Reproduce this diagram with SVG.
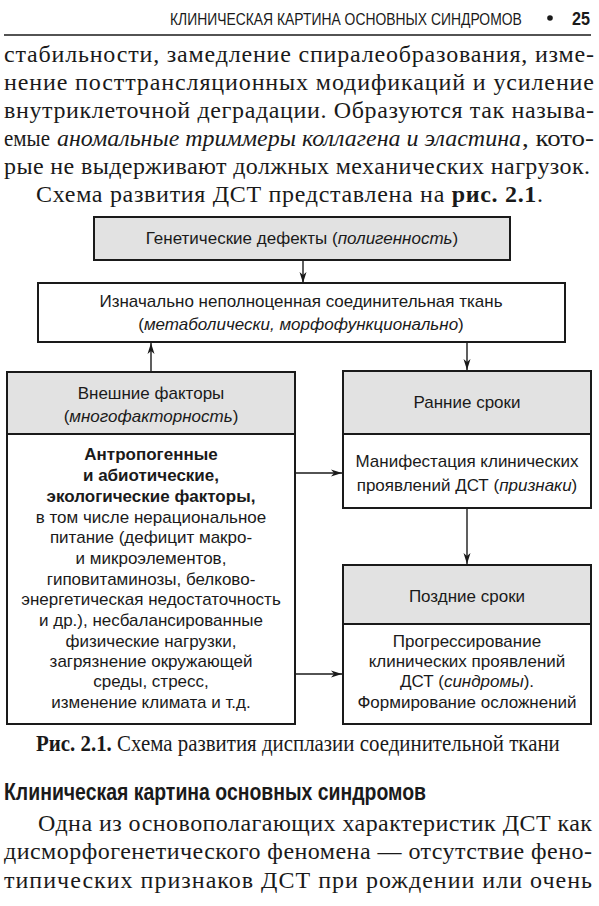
<svg xmlns="http://www.w3.org/2000/svg" width="599" height="906" viewBox="0 0 599 906">
<defs>
<marker id="arr" markerUnits="userSpaceOnUse" markerWidth="12" markerHeight="8" refX="11" refY="4" orient="auto">
<path d="M0,0.5 L11,4 L0,7.5 L3,4 z" fill="#1a1a1a"/>
</marker>
</defs>
<style>
.body{font-family:"Liberation Serif","Times New Roman",serif;font-size:24px;fill:#1a1a1a}
.sans{font-family:"Liberation Sans",Arial,sans-serif;font-size:17px;fill:#1a1a1a}
.box{stroke:#1a1a1a;stroke-width:2}
.hdr{fill:#e2e2e2}
.wht{fill:#ffffff}
.con{stroke:#1a1a1a;stroke-width:1.4;fill:none;marker-end:url(#arr)}
.it{font-style:italic}
.b{font-weight:bold}
</style>
<rect width="599" height="906" fill="#ffffff"/>

<!-- page header -->
<g id="page-header">
<text transform="translate(170,25) scale(0.82,1)" x="0" y="0" font-family="Liberation Sans,Arial,sans-serif" font-size="17" fill="#1a1a1a" textLength="429" lengthAdjust="spacingAndGlyphs">КЛИНИЧЕСКАЯ КАРТИНА ОСНОВНЫХ СИНДРОМОВ</text>
<circle cx="550" cy="18" r="2.8" fill="#1a1a1a"/>
<text transform="translate(572,25) scale(0.9,1)" x="0" y="0" font-family="Liberation Sans,Arial,sans-serif" font-size="18" font-weight="bold" fill="#1a1a1a">25</text>
<line x1="4" y1="35" x2="591" y2="35" stroke="#1a1a1a" stroke-width="1.5"/>
</g>

<!-- top paragraph -->
<g id="para-top">
<text class="body" x="4" y="62" textLength="590" lengthAdjust="spacing">стабильности, замедление спиралеобразования, изме-</text>
<text class="body" x="4" y="90" textLength="590" lengthAdjust="spacing">нение посттрансляционных модификаций и усиление</text>
<text class="body" x="4" y="118" textLength="590" lengthAdjust="spacing">внутриклеточной деградации. Образуются так называ-</text>
<text class="body" x="4" y="146" textLength="46" lengthAdjust="spacingAndGlyphs">емые</text>
<text class="body it" x="57" y="146" textLength="464" lengthAdjust="spacingAndGlyphs">аномальные триммеры коллагена и эластина</text>
<text class="body" x="522" y="146" textLength="72" lengthAdjust="spacingAndGlyphs">, кото-</text>
<text class="body" x="4" y="174" textLength="586" lengthAdjust="spacing">рые не выдерживают должных механических нагрузок.</text>
<text class="body" x="36" y="202" textLength="507" lengthAdjust="spacing">Схема развития ДСТ представлена на <tspan class="b">рис. 2.1</tspan>.</text>
</g>

<!-- connectors -->
<g id="connectors">
<line class="con" x1="303" y1="260" x2="303" y2="283"/>
<line class="con" x1="151" y1="372" x2="151" y2="343"/>
<line class="con" x1="467" y1="342" x2="467" y2="370"/>
<line class="con" x1="467" y1="508" x2="467" y2="564"/>
<line class="con" x1="295" y1="473" x2="342" y2="473"/>
<line class="con" x1="295" y1="674" x2="342" y2="674"/>
</g>

<g id="genetic">
<rect class="box hdr" x="94" y="217" width="416" height="43"/>
<text class="sans" x="302" y="244" text-anchor="middle">Генетические дефекты (<tspan class="it">полигенность</tspan>)</text>
</g>

<g id="tissue">
<rect class="box wht" x="38" y="283" width="527" height="59"/>
<text class="sans" x="301" y="307" text-anchor="middle">Изначально неполноценная соединительная ткань</text>
<text class="sans" x="301" y="330" text-anchor="middle">(<tspan class="it">метаболически, морфофункционально</tspan>)</text>
</g>

<g id="external">
<rect class="box wht" x="7" y="372" width="288" height="352"/>
<rect class="box hdr" x="7" y="372" width="288" height="62"/>
<text class="sans" x="151" y="399" text-anchor="middle">Внешние факторы</text>
<text class="sans" x="151" y="422" text-anchor="middle">(<tspan class="it">многофакторность</tspan>)</text>
<text class="sans b" x="151" y="460" text-anchor="middle">Антропогенные</text>
<text class="sans b" x="151" y="481" text-anchor="middle">и абиотические,</text>
<text class="sans b" x="151" y="502" text-anchor="middle">экологические факторы,</text>
<text class="sans" x="151" y="523" text-anchor="middle">в том числе нерациональное</text>
<text class="sans" x="151" y="543" text-anchor="middle">питание (дефицит макро-</text>
<text class="sans" x="151" y="564" text-anchor="middle">и микроэлементов,</text>
<text class="sans" x="151" y="585" text-anchor="middle">гиповитаминозы, белково-</text>
<text class="sans" x="151" y="605" text-anchor="middle">энергетическая недостаточность</text>
<text class="sans" x="151" y="626" text-anchor="middle">и др.), несбалансированные</text>
<text class="sans" x="151" y="647" text-anchor="middle">физические нагрузки,</text>
<text class="sans" x="151" y="667" text-anchor="middle">загрязнение окружающей</text>
<text class="sans" x="151" y="687" text-anchor="middle">среды, стресс,</text>
<text class="sans" x="151" y="708" text-anchor="middle">изменение климата и т.д.</text>
</g>

<g id="early">
<rect class="box wht" x="343" y="371" width="248" height="137"/>
<rect class="box hdr" x="343" y="371" width="248" height="63"/>
<text class="sans" x="467" y="408" text-anchor="middle">Ранние сроки</text>
<text class="sans" x="467" y="467" text-anchor="middle">Манифестация клинических</text>
<text class="sans" x="467" y="491" text-anchor="middle">проявлений ДСТ (<tspan class="it">признаки</tspan>)</text>
</g>

<g id="late">
<rect class="box wht" x="343" y="565" width="248" height="159"/>
<rect class="box hdr" x="343" y="565" width="248" height="59"/>
<text class="sans" x="467" y="602" text-anchor="middle">Поздние сроки</text>
<text class="sans" x="467" y="647" text-anchor="middle">Прогрессирование</text>
<text class="sans" x="467" y="667" text-anchor="middle">клинических проявлений</text>
<text class="sans" x="467" y="687" text-anchor="middle">ДСТ (<tspan class="it">синдромы</tspan>).</text>
<text class="sans" x="467" y="708" text-anchor="middle">Формирование осложнений</text>
</g>

<g id="caption">
<text class="body" transform="translate(36,751) scale(0.9,1)" x="0" y="0" font-size="20" textLength="582" lengthAdjust="spacingAndGlyphs"><tspan class="b">Рис. 2.1.</tspan> Схема развития дисплазии соединительной ткани</text>
</g>

<g id="para-bottom">
<text x="4" y="800" font-family="Liberation Sans,Arial,sans-serif" font-size="23" font-weight="bold" fill="#1a1a1a" textLength="422" lengthAdjust="spacingAndGlyphs">Клиническая картина основных синдромов</text>
<text class="body" x="38" y="831" textLength="554" lengthAdjust="spacing">Одна из основополагающих характеристик ДСТ как</text>
<text class="body" x="4" y="859" textLength="588" lengthAdjust="spacing">дисморфогенетического феномена — отсутствие фено-</text>
<text class="body" x="4" y="888" textLength="588" lengthAdjust="spacing">типических признаков ДСТ при рождении или очень</text>
</g>
</svg>
